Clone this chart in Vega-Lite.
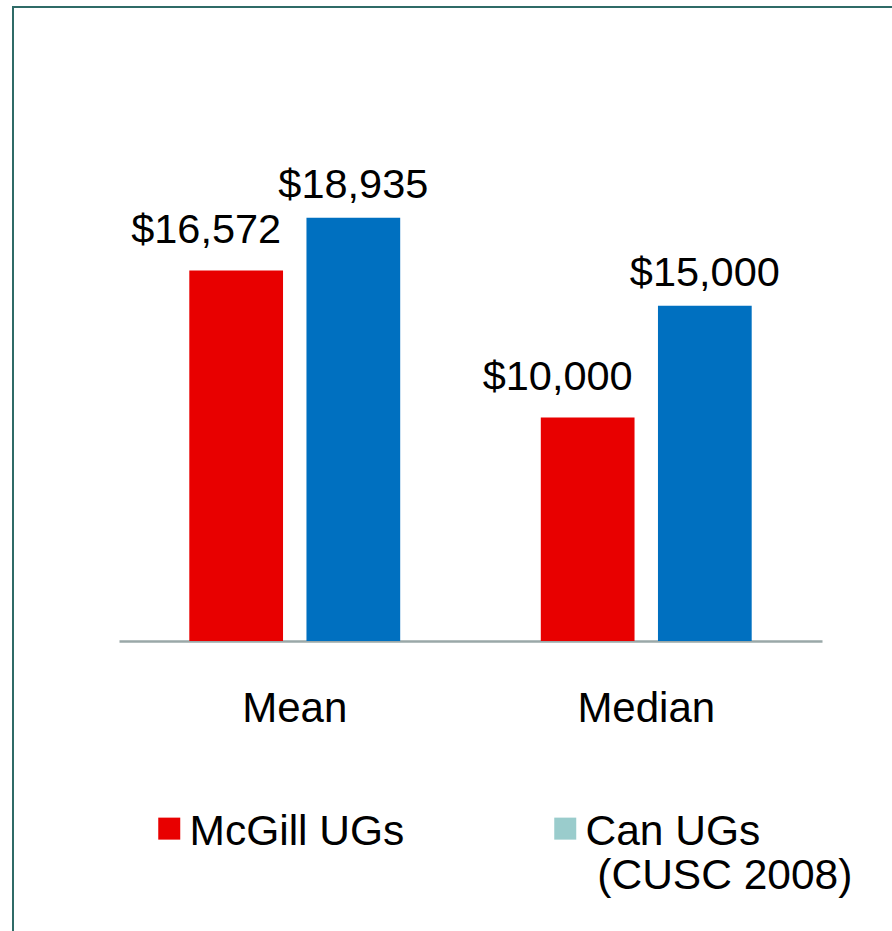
{
  "$schema": "https://vega.github.io/schema/vega-lite/v6.json",
  "width": 880,
  "height": 925,
  "autosize": {"type": "none"},
  "padding": {"left": 13, "top": 7, "right": 0, "bottom": 0},
  "background": "white",
  "config": {
    "font": "Liberation Sans",
    "view": {"stroke": "#2F6B67", "strokeWidth": 2},
    "axis": {"grid": false}
  },
  "data": {
    "values": [
      {"stat": "Mean", "series": "McGill UGs", "value": 16572},
      {"stat": "Mean", "series": "Can UGs (CUSC 2008)", "value": 18935},
      {"stat": "Median", "series": "McGill UGs", "value": 10000},
      {"stat": "Median", "series": "Can UGs (CUSC 2008)", "value": 15000}
    ]
  },
  "encoding": {
    "x": {
      "field": "stat",
      "type": "nominal",
      "sort": ["Mean", "Median"],
      "scale": {"range": [106, 809], "paddingInner": 0.4, "paddingOuter": 0.2},
      "axis": {
        "title": null,
        "orient": "bottom",
        "offset": -291,
        "labelAngle": 0,
        "labelFontSize": 42,
        "labelColor": "black",
        "labelFont": "Liberation Sans",
        "labelBaseline": "top",
        "labelPadding": 47,
        "ticks": false,
        "tickSize": 0,
        "domainColor": "#9AA8A8",
        "domainWidth": 2.5
      }
    },
    "xOffset": {
      "field": "series",
      "type": "nominal",
      "scale": {"domain": ["McGill UGs", "Can UGs (CUSC 2008)"], "paddingInner": 0.2, "paddingOuter": 0}
    },
    "y": {
      "field": "value",
      "type": "quantitative",
      "scale": {"domain": [0, 25000], "range": [634, 75.25], "nice": false, "zero": true},
      "axis": null
    }
  },
  "layer": [
    {
      "mark": {"type": "bar"},
      "encoding": {
        "color": {
          "field": "series",
          "type": "nominal",
          "scale": {"domain": ["McGill UGs", "Can UGs (CUSC 2008)"], "range": ["#E80000", "#0070C0"]},
          "legend": {
            "title": null,
            "orient": "none",
            "legendX": 135,
            "legendY": 800,
            "direction": "horizontal",
            "columns": 2,
            "columnPadding": 119,
            "padding": 0,
            "symbolType": "square",
            "symbolSize": 4,
            "symbolStrokeWidth": 20,
            "symbolOffset": 0,
            "labelOffset": -1,
            "labelFontSize": 42.5,
            "labelFont": "Liberation Sans",
            "labelColor": "black",
            "labelLimit": 500,
            "labelExpr": "datum.label === 'Can UGs (CUSC 2008)' ? ['Can UGs', '\u200b\u00a0(CUSC 2008)'] : [datum.label, '\u00a0']",
            "encode": {
              "symbols": {
                "update": {
                  "stroke": {"signal": "datum.value === 'McGill UGs' ? '#E80000' : '#9ACCCC'"},
                  "strokeWidth": {"value": 20},
                  "strokeJoin": {"value": "miter"},
                  "opacity": {"value": 1}
                }
              },
              "labels": {
                "update": {"dy": {"value": 3}}
              }
            }
          }
        }
      }
    },
    {
      "transform": [{"filter": "datum.series === 'McGill UGs'"}],
      "mark": {"type": "text", "align": "right", "baseline": "alphabetic", "dx": 45, "dy": -28, "fontSize": 41.5, "color": "black"},
      "encoding": {"text": {"field": "value", "type": "quantitative", "format": "$,.0f"}}
    },
    {
      "transform": [{"filter": "datum.series !== 'McGill UGs'"}],
      "mark": {"type": "text", "align": "center", "baseline": "alphabetic", "dy": -20, "fontSize": 41.5, "color": "black"},
      "encoding": {"text": {"field": "value", "type": "quantitative", "format": "$,.0f"}}
    }
  ]
}
